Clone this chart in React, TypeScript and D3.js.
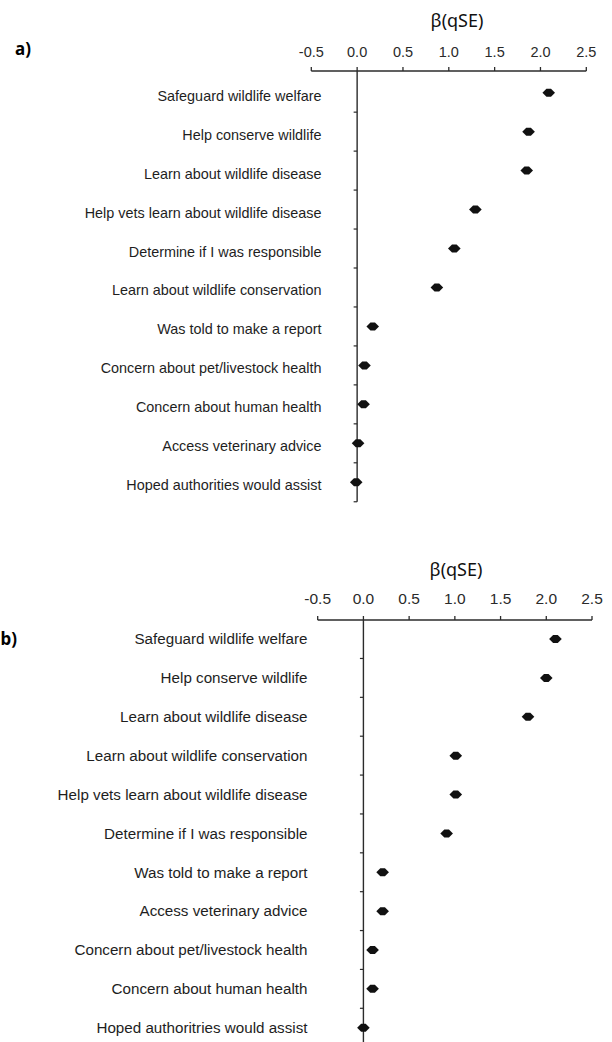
import React from "react";
import * as d3 from "d3";

const categoriesA = [
  "Safeguard wildlife welfare",
  "Help conserve wildlife",
  "Learn about wildlife disease",
  "Help vets learn about wildlife disease",
  "Determine if I was responsible",
  "Learn about wildlife conservation",
  "Was told to make a report",
  "Concern about pet/livestock health",
  "Concern about human health",
  "Access veterinary advice",
  "Hoped authorities would assist",
];
const valuesA = [2.09, 1.87, 1.85, 1.29, 1.06, 0.87, 0.17, 0.08, 0.07, 0.01, -0.01];

const categoriesB = [
  "Safeguard wildlife welfare",
  "Help conserve wildlife",
  "Learn about wildlife disease",
  "Learn about wildlife conservation",
  "Help vets learn about wildlife disease ",
  "Determine if I was responsible",
  "Was told to make a report",
  "Access veterinary advice",
  "Concern about pet/livestock health",
  "Concern about human health",
  "Hoped authoritries would assist",
];
const valuesB = [2.1, 2.0, 1.8, 1.01, 1.01, 0.91, 0.21, 0.21, 0.1, 0.1, 0.0];

const tickValues = [-0.5, 0, 0.5, 1, 1.5, 2, 2.5];
const tickLabels = ["-0.5", "0.0", "0.5", "1.0", "1.5", "2.0", "2.5"];
const axisTitle = "β(qSE)";
const panelLetters = ["a)", "b)"];

type PanelProps = {
  cats: string[];
  vals: number[];
  xRange: [number, number];
  axisY: number;
  yRange: [number, number];
  tickLabelY: number;
  tickFont: number;
  titleX: number;
  titleY: number;
  labelRight: number;
  labelFont: number;
  labelDy: number;
  axisBottom: number;
  letter: string;
  letterX: number;
  letterY: number;
};

const Panel = (p: PanelProps) => {
  const x = d3.scaleLinear().domain([-0.5, 2.5]).range(p.xRange);
  const y = d3.scaleBand<string>().domain(p.cats).range(p.yRange).paddingInner(0).paddingOuter(0);
  const bw = y.bandwidth();
  const x0 = x(0);
  const stroke = "#2b2b2b";
  const marker = "M-6.3,0 L-2.3,-4 L2.3,-4 L6.3,0 L2.3,4 L-2.3,4 Z";
  return (
    <g>
      <text x={p.letterX} y={p.letterY} fontFamily="'Noto Sans', 'Open Sans', sans-serif" fontWeight="bold" fontSize={17} fill="#000">
        {p.letter}
      </text>
      <text x={p.titleX} y={p.titleY} textAnchor="middle" fontFamily="'Noto Sans', 'Open Sans', sans-serif" fontSize={18} fill="#111">
        {axisTitle}
      </text>
      <line x1={x(-0.5)} x2={x(2.5)} y1={p.axisY} y2={p.axisY} stroke={stroke} strokeWidth={1.4} />
      {tickValues.map((t, i) => (
        <g key={i}>
          <line x1={x(t)} x2={x(t)} y1={p.axisY} y2={p.axisY - 4} stroke={stroke} strokeWidth={1.3} />
          <text x={x(t)} y={p.tickLabelY} textAnchor="middle" fontFamily="'Liberation Sans', Arial, sans-serif" fontSize={p.tickFont} fill="#2a2a2a">
            {tickLabels[i]}
          </text>
        </g>
      ))}
      <line x1={x0} x2={x0} y1={p.axisY} y2={p.axisBottom} stroke={stroke} strokeWidth={1.4} />
      {p.cats.map((c, i) => (
        <line key={"t" + i} x1={x0 - 3.5} x2={x0} y1={(y(c) as number) + bw} y2={(y(c) as number) + bw} stroke={stroke} strokeWidth={1.2} />
      ))}
      {p.cats.map((c, i) => {
        const cy = (y(c) as number) + bw / 2;
        return (
          <g key={"r" + i}>
            <text x={p.labelRight} y={cy + p.labelDy} textAnchor="end" fontFamily="'Liberation Sans', Arial, sans-serif" fontSize={p.labelFont} fill="#1e1e1e">
              {c}
            </text>
            <path d={marker} transform={`translate(${x(p.vals[i])},${cy})`} fill="#111" />
          </g>
        );
      })}
    </g>
  );
};

export default function App() {
  return (
    <svg width={612} height={1042} style={{ position: "absolute", left: 0, top: 0, background: "#fff" }}>
      <rect x={0} y={0} width={612} height={1042} fill="#fff" />
      <Panel
        cats={categoriesA}
        vals={valuesA}
        xRange={[311.3, 586.3]}
        axisY={71}
        yRange={[73.2, 73.2 + 11 * 38.96]}
        tickLabelY={56.7}
        tickFont={14.5}
        titleX={457}
        titleY={27}
        labelRight={321.5}
        labelFont={14.4}
        labelDy={8}
        axisBottom={73.2 + 11 * 38.96}
        letter={panelLetters[0]}
        letterX={15}
        letterY={55}
      />
      <Panel
        cats={categoriesB}
        vals={valuesB}
        xRange={[317.7, 592]}
        axisY={620}
        yRange={[619.6, 619.6 + 11 * 38.87]}
        tickLabelY={603.8}
        tickFont={15.5}
        titleX={456}
        titleY={575.5}
        labelRight={307.5}
        labelFont={15.2}
        labelDy={5.3}
        axisBottom={1042}
        letter={panelLetters[1]}
        letterX={0.5}
        letterY={645}
      />
    </svg>
  );
}
